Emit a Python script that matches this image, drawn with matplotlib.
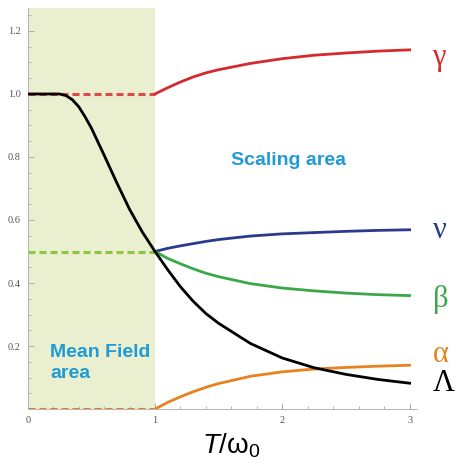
import matplotlib
matplotlib.use("Agg")
import matplotlib.pyplot as plt
from matplotlib.ticker import MultipleLocator

# scaling-area curves (T/w0 from 1 to 3)
t_scale = [1.0, 1.1, 1.2, 1.3, 1.4, 1.5, 1.75, 2.0, 2.25, 2.5, 2.75, 3.0]
gamma = [1.0, 1.02, 1.038, 1.054, 1.067, 1.077, 1.097, 1.112, 1.123, 1.13, 1.136, 1.14]
nu = [0.5, 0.51, 0.518, 0.525, 0.532, 0.538, 0.549, 0.556, 0.56, 0.564, 0.567, 0.569]
beta = [0.5, 0.478, 0.461, 0.445, 0.431, 0.42, 0.398, 0.384, 0.375, 0.368, 0.363, 0.36]
alpha = [0.0, 0.021, 0.039, 0.055, 0.069, 0.081, 0.104, 0.118, 0.127, 0.132, 0.136, 0.139]

# Lambda over the whole range
t_lam = [0.0, 0.25, 0.3, 0.35, 0.4, 0.45, 0.5, 0.6, 0.7, 0.8, 0.9, 1.0,
         1.1, 1.2, 1.3, 1.4, 1.5, 1.75, 2.0, 2.25, 2.5, 2.75, 3.0]
lam = [1.0, 1.0, 0.995, 0.982, 0.96, 0.928, 0.892, 0.806, 0.718, 0.634, 0.562, 0.5,
       0.442, 0.388, 0.342, 0.303, 0.272, 0.208, 0.162, 0.131, 0.11, 0.094, 0.082]

# mean field values (dashed, T/w0 from 0 to 1)
t_mf = [0.0, 1.0]
gamma_mf = [1.0, 1.0]
half_mf = [0.5, 0.5]
alpha_mf = [0.0, 0.0]

# right-hand labels and their baselines
labels = ["γ", "ν", "β", "α", "Λ"]
label_y = [1.092, 0.543, 0.324, 0.148, 0.058]
label_colors = ["#d42a2e", "#2a3a8c", "#3aa84a", "#e8821e", "black"]

plt.rcParams['mathtext.fontset'] = 'custom'
plt.rcParams['mathtext.rm'] = 'Liberation Sans'
plt.rcParams['mathtext.it'] = 'Liberation Sans:italic'

fig = plt.figure(figsize=(4.58, 4.68), dpi=100)
ax = fig.add_axes([0.0605, 0.126, 0.8505, 0.857])

ax.axvspan(0, 1, color="#eaefcf", zorder=0, lw=0)

dash = (2.3, 1.3)
ax.plot(t_mf, gamma_mf, color="#e0474c", lw=2.2, dashes=dash, zorder=2)
ax.plot(t_mf, half_mf, color="#8dc63f", lw=2.2, dashes=dash, zorder=2)
ax.plot(t_mf, alpha_mf, color="#e8772e", lw=2.2, dashes=dash, zorder=2)

ax.plot(t_scale, gamma, color="#d42a2e", lw=2.0, zorder=3)
ax.plot(t_scale, nu, color="#2a3a8c", lw=2.0, zorder=3)
ax.plot(t_scale, beta, color="#3aa84a", lw=2.0, zorder=3)
ax.plot(t_scale, alpha, color="#e8821e", lw=2.0, zorder=3)
ax.plot(t_lam, lam, color="black", lw=2.0, zorder=4)

for lab, y, c in zip(labels, label_y, label_colors):
    ax.text(3.18, y, lab, color=c, fontsize=22, family="Liberation Serif",
            ha="left", va="baseline", clip_on=False)

blue_txt = "#1f9bd7"
ax.text(2.045, 0.79, "Scaling area", color=blue_txt, fontsize=14, weight="bold",
        family="Liberation Sans", ha="center", va="center")
ax.text(0.175, 0.098, "Mean Field\narea", color=blue_txt, fontsize=14, weight="bold",
        family="Liberation Sans", ha="left", va="baseline", linespacing=1.3)

ax.set_xlim(0, 3.06)
ax.set_ylim(0, 1.273)
ax.set_xticks([0, 1, 2, 3])
ax.set_yticks([0.2, 0.4, 0.6, 0.8, 1.0, 1.2])
ax.set_yticklabels(["0.2", "0.4", "0.6", "0.8", "1.0", "1.2"])
ax.xaxis.set_minor_locator(MultipleLocator(0.2))
ax.yaxis.set_minor_locator(MultipleLocator(0.05))
ax.tick_params(which="both", direction="in", color="#aaaaaa", labelcolor="#555555",
               labelsize=7.5, pad=5)
ax.tick_params(which="major", length=4, width=0.7)
ax.tick_params(which="minor", length=2.5, width=0.6)
for lab in ax.get_xticklabels() + ax.get_yticklabels():
    lab.set_family("Liberation Serif")

for side in ["top", "right"]:
    ax.spines[side].set_visible(False)
for side in ["left", "bottom"]:
    ax.spines[side].set_color("#b5b5b5")
    ax.spines[side].set_linewidth(0.7)
ax.patch.set_alpha(0)

# x label: italic T, upright omega with subscript 0
fig.text(0.506, 0.032, "$\\mathit{T}\\mathregular{/ω_0}$", fontsize=20,
         family="Liberation Sans", ha="center", va="baseline")

fig.savefig("out.png", dpi=100)
